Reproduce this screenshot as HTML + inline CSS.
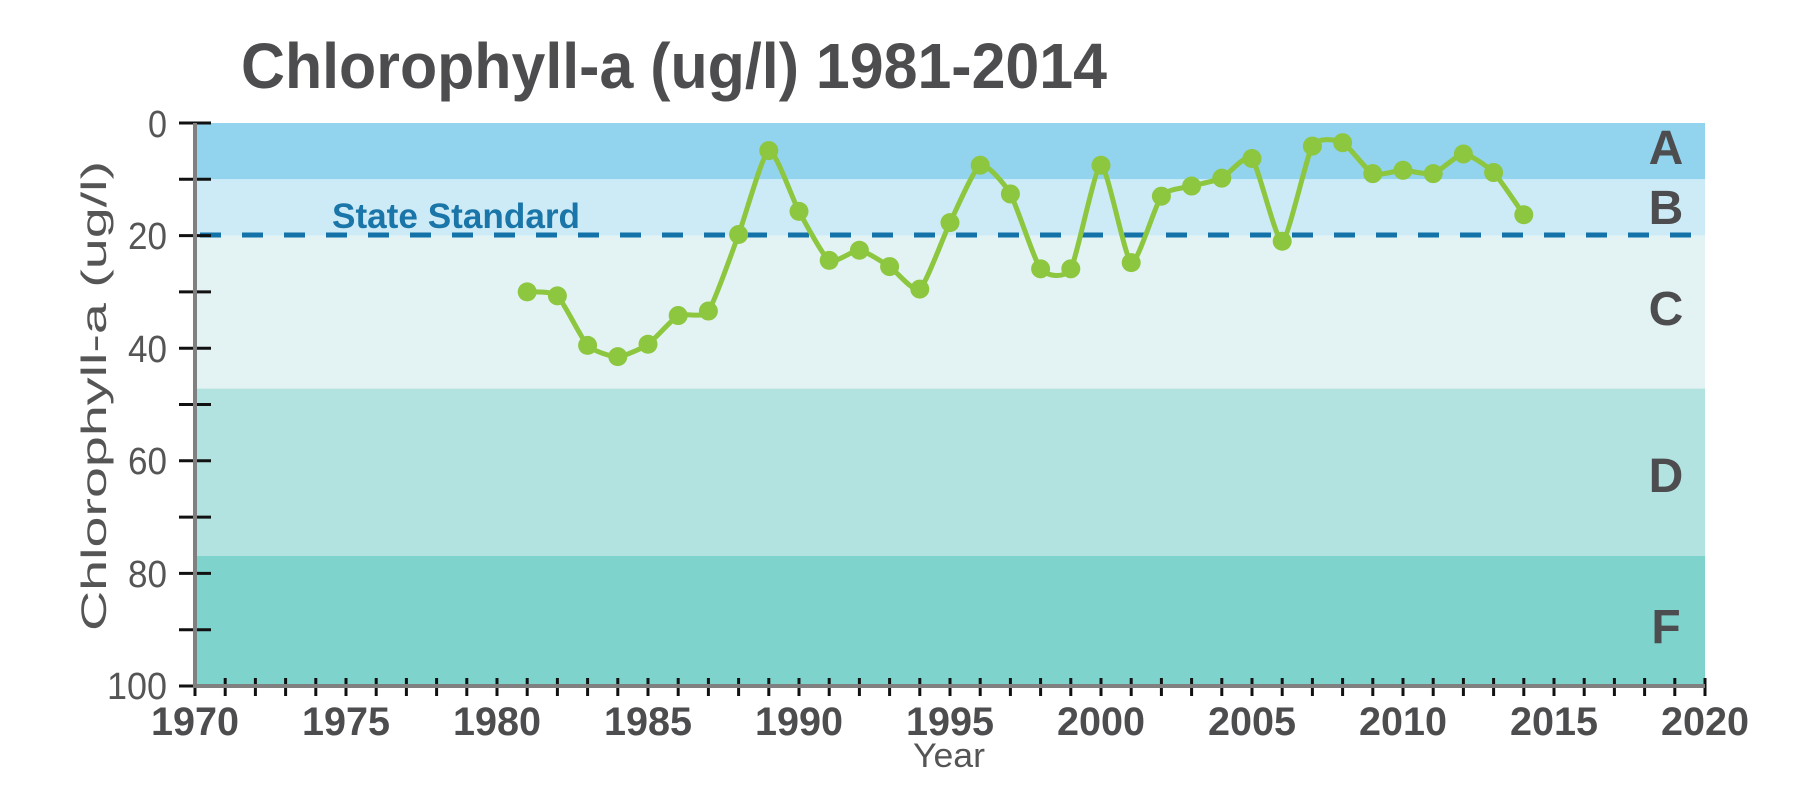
<!DOCTYPE html>
<html><head><meta charset="utf-8"><style>
html,body{margin:0;padding:0;background:#fff;width:1801px;height:792px;overflow:hidden}
</style></head><body>
<svg id="s" width="1801" height="792" viewBox="0 0 1801 792" xmlns="http://www.w3.org/2000/svg" font-family="Liberation Sans, sans-serif">
<rect x="195" y="123" width="1510" height="56.3" fill="#92d3ee"/>
<rect x="195" y="179.3" width="1510" height="56.3" fill="#cdebf7"/>
<rect x="195" y="235.6" width="1510" height="153" fill="#e3f3f3"/>
<rect x="195" y="388.6" width="1510" height="167.4" fill="#b2e3e0"/>
<rect x="195" y="556" width="1510" height="130" fill="#7fd3cd"/>
<line x1="195" y1="235" x2="1705" y2="235" stroke="#1372a8" stroke-width="5" stroke-dasharray="21 21" stroke-dashoffset="-5"/>
<text x="332" y="228" font-size="35" font-weight="bold" fill="#1a75a8" textLength="248" lengthAdjust="spacingAndGlyphs">State Standard</text>
<text x="241" y="88" font-size="64" font-weight="bold" fill="#4d4d4f" textLength="866" lengthAdjust="spacingAndGlyphs">Chlorophyll-a (ug/l) 1981-2014</text>
<g font-size="48" font-weight="bold" fill="#4d4d4f" text-anchor="middle">
<text x="1666" y="164">A</text><text x="1666" y="224">B</text><text x="1666" y="325">C</text><text x="1666" y="492">D</text><text x="1666" y="643">F</text>
</g>
<g id="axes"></g>
<line x1="195" y1="123" x2="195" y2="688" stroke="#808080" stroke-width="4"/>
<line x1="193" y1="686" x2="1705" y2="686" stroke="#808080" stroke-width="4"/>
<g font-size="38" fill="#555" text-anchor="end">
<text x="167" y="137" textLength="19" lengthAdjust="spacingAndGlyphs">0</text>
<text x="167" y="249" textLength="39" lengthAdjust="spacingAndGlyphs">20</text>
<text x="167" y="362" textLength="39" lengthAdjust="spacingAndGlyphs">40</text>
<text x="167" y="474" textLength="39" lengthAdjust="spacingAndGlyphs">60</text>
<text x="167" y="587" textLength="39" lengthAdjust="spacingAndGlyphs">80</text>
<text x="167" y="699" textLength="60" lengthAdjust="spacingAndGlyphs">100</text>
</g>
<text transform="translate(106,396) rotate(-90)" font-size="35" fill="#555" text-anchor="middle" textLength="470" lengthAdjust="spacingAndGlyphs">Chlorophyll-a (ug/l)</text>
<g id="xl" font-size="40" font-weight="bold" fill="#4d4d4f" text-anchor="middle">
<text x="195" y="735" textLength="88" lengthAdjust="spacingAndGlyphs">1970</text>
<text x="346" y="735" textLength="88" lengthAdjust="spacingAndGlyphs">1975</text>
<text x="497" y="735" textLength="88" lengthAdjust="spacingAndGlyphs">1980</text>
<text x="648" y="735" textLength="88" lengthAdjust="spacingAndGlyphs">1985</text>
<text x="799" y="735" textLength="88" lengthAdjust="spacingAndGlyphs">1990</text>
<text x="950" y="735" textLength="88" lengthAdjust="spacingAndGlyphs">1995</text>
<text x="1101" y="735" textLength="88" lengthAdjust="spacingAndGlyphs">2000</text>
<text x="1252" y="735" textLength="88" lengthAdjust="spacingAndGlyphs">2005</text>
<text x="1403" y="735" textLength="88" lengthAdjust="spacingAndGlyphs">2010</text>
<text x="1554" y="735" textLength="88" lengthAdjust="spacingAndGlyphs">2015</text>
<text x="1705" y="735" textLength="88" lengthAdjust="spacingAndGlyphs">2020</text>
</g>
<text x="949" y="767" font-size="34" fill="#555" text-anchor="middle" textLength="72" lengthAdjust="spacingAndGlyphs">Year</text>
<g id="series"></g>
</svg>
<script>
var NS="http://www.w3.org/2000/svg";
function el(t,a,p){var e=document.createElementNS(NS,t);for(var k in a)e.setAttribute(k,a[k]);p.appendChild(e);return e;}
var ax=document.getElementById("axes");
for(var v=0;v<=100;v+=10){var y=123+v*5.63;el("line",{x1:179,y1:y,x2:211,y2:y,stroke:"#111","stroke-width":3},ax);}
for(var yr=1970;yr<=2020;yr++){var x=195+(yr-1970)*30.2;el("line",{x1:x,y1:678,x2:x,y2:696,stroke:"#111","stroke-width":3},ax);}
var d=[30,30.7,39.5,41.5,39.3,34.2,33.4,19.8,4.9,15.7,24.4,22.6,25.5,29.5,17.7,7.5,12.6,25.9,25.9,7.5,24.8,13,11.2,9.8,6.3,21,4.1,3.5,9,8.4,9,5.5,8.8,16.3];
var P=d.map(function(v,i){return [195+(1981+i-1970)*30.2,123+v*5.63];});
var s="M"+P[0][0]+","+P[0][1];
for(var i=0;i<P.length-1;i++){var p0=P[i-1]||P[i],p1=P[i],p2=P[i+1],p3=P[i+2]||p2,t=0.3/3;
s+=" C"+(p1[0]+(p2[0]-p0[0])*t)+","+(p1[1]+(p2[1]-p0[1])*t)+" "+(p2[0]-(p3[0]-p1[0])*t)+","+(p2[1]-(p3[1]-p1[1])*t)+" "+p2[0]+","+p2[1];}
var g=document.getElementById("series");
el("path",{d:s,fill:"none",stroke:"#8dc63f","stroke-width":5},g);
P.forEach(function(p){el("circle",{cx:p[0],cy:p[1],r:9.5,fill:"#8dc63f"},g);});
</script>
</body></html>
